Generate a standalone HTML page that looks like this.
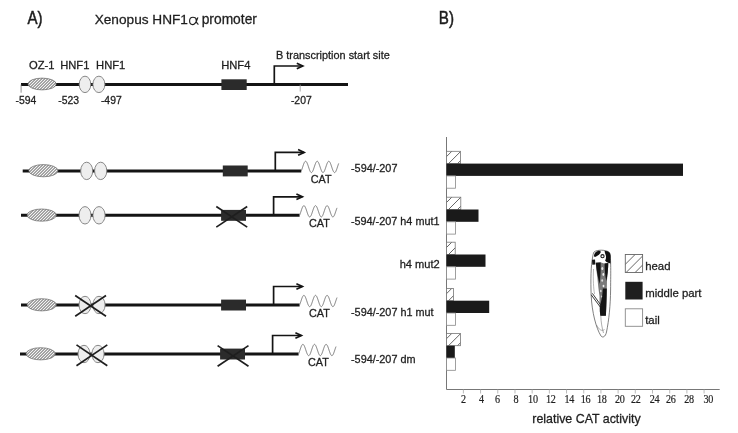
<!DOCTYPE html>
<html><head><meta charset="utf-8"><style>
html,body{margin:0;padding:0;background:#fff;}
body{width:738px;height:433px;overflow:hidden;}
svg{display:block;will-change:transform;}
text{stroke:#1e1e1e;stroke-width:0.28px;}
</style></head><body>
<svg width="738" height="433" viewBox="0 0 738 433">
<defs>
<pattern id="fine" patternUnits="userSpaceOnUse" width="2.1213" height="2.1213" patternTransform="rotate(45)">
<rect width="2.1213" height="2.1213" fill="#fff"/><rect width="0.8" height="2.1213" fill="#555"/></pattern>
<pattern id="hatch" patternUnits="userSpaceOnUse" width="6.2" height="6.2" patternTransform="rotate(45)">
<rect width="6.2" height="6.2" fill="#fff"/><rect width="0.9" height="6.2" fill="#555"/></pattern>
</defs>
<rect width="738" height="433" fill="#fff"/>
<text x="27.4" y="23.8" font-family="Liberation Sans, sans-serif" font-size="18.8" fill="#1e1e1e" style="stroke-width:0.55px" transform="translate(27.4 0) scale(0.8 1) translate(-27.4 0)">A)</text>
<text x="94.70" y="24.00" font-family="Liberation Sans, sans-serif" font-size="13.65" fill="#1e1e1e" text-anchor="start" >Xenopus HNF1</text>
<path d="M196.6,19.2 C195.8,17.8 194.4,17.2 193,17.2 C190.8,17.2 189.6,19.1 189.6,21.1 C189.6,23.3 190.9,24.6 192.6,24.6 C194.6,24.6 195.9,22.4 196.8,20.2 L197.9,17.4 M195.9,18.6 C196.2,21.3 196.7,24.3 198.6,24.2" fill="none" stroke="#1e1e1e" stroke-width="1.15"/>
<text x="201.70" y="24.00" font-family="Liberation Sans, sans-serif" font-size="13.8" fill="#1e1e1e" text-anchor="start" >promoter</text>
<line x1="21.00" y1="84.60" x2="348.00" y2="84.60" stroke="#141414" stroke-width="3"/>
<line x1="21.1" y1="84.6" x2="21.1" y2="92.7" stroke="#777" stroke-width="0.8"/>
<line x1="300.2" y1="84.6" x2="300.2" y2="91.5" stroke="#999" stroke-width="0.8"/>
<ellipse cx="42.10" cy="84.00" rx="14.1" ry="5.9" fill="url(#fine)" stroke="#666" stroke-width="0.7"/>
<ellipse cx="85.00" cy="84.40" rx="5.8" ry="8.2" fill="#eeeeee" stroke="#7a7a7a" stroke-width="0.9"/>
<ellipse cx="98.90" cy="84.40" rx="6.0" ry="8.2" fill="#eeeeee" stroke="#7a7a7a" stroke-width="0.9"/>
<rect x="221.40" y="79.30" width="25.30" height="10.70" fill="#2b2b2b"/>
<polyline points="274.30,84.60 274.30,66.00 302.80,66.00" fill="none" stroke="#141414" stroke-width="1.7"/>
<polyline points="296.80,63.20 302.80,66.00 296.80,68.80" fill="none" stroke="#141414" stroke-width="1.7"/>
<text x="29.00" y="68.50" font-family="Liberation Sans, sans-serif" font-size="11.2" fill="#1e1e1e" text-anchor="start" >OZ-1</text>
<text x="60.20" y="68.50" font-family="Liberation Sans, sans-serif" font-size="11.2" fill="#1e1e1e" text-anchor="start" >HNF1</text>
<text x="96.10" y="68.50" font-family="Liberation Sans, sans-serif" font-size="11.2" fill="#1e1e1e" text-anchor="start" >HNF1</text>
<text x="221.20" y="68.50" font-family="Liberation Sans, sans-serif" font-size="11.2" fill="#1e1e1e" text-anchor="start" >HNF4</text>
<text x="276.00" y="59.30" font-family="Liberation Sans, sans-serif" font-size="10.9" fill="#1e1e1e" text-anchor="start" >B transcription start site</text>
<text x="15.50" y="103.50" font-family="Liberation Sans, sans-serif" font-size="10.4" fill="#1e1e1e" text-anchor="start" >-594</text>
<text x="58.20" y="103.50" font-family="Liberation Sans, sans-serif" font-size="10.4" fill="#1e1e1e" text-anchor="start" >-523</text>
<text x="100.90" y="103.50" font-family="Liberation Sans, sans-serif" font-size="10.4" fill="#1e1e1e" text-anchor="start" >-497</text>
<text x="290.90" y="103.50" font-family="Liberation Sans, sans-serif" font-size="10.4" fill="#1e1e1e" text-anchor="start" >-207</text>
<line x1="22.70" y1="170.90" x2="301.30" y2="170.90" stroke="#141414" stroke-width="3"/>
<ellipse cx="43.40" cy="170.70" rx="14.6" ry="6.1" fill="url(#fine)" stroke="#666" stroke-width="0.7"/>
<ellipse cx="86.70" cy="170.90" rx="6.0" ry="8.7" fill="#eeeeee" stroke="#7a7a7a" stroke-width="0.9"/>
<ellipse cx="100.70" cy="170.90" rx="6.1" ry="8.7" fill="#eeeeee" stroke="#7a7a7a" stroke-width="0.9"/>
<rect x="222.80" y="165.50" width="24.90" height="10.90" fill="#2b2b2b"/>
<polyline points="275.30,170.90 275.30,152.40 304.10,152.40" fill="none" stroke="#141414" stroke-width="1.7"/>
<polyline points="298.10,149.60 304.10,152.40 298.10,155.20" fill="none" stroke="#141414" stroke-width="1.7"/>
<polyline points="301.30,170.79 301.55,170.19 301.80,169.54 302.05,168.84 302.30,168.10 302.56,167.34 302.81,166.58 303.06,165.81 303.31,165.07 303.56,164.36 303.81,163.70 304.06,163.10 304.31,162.57 304.56,162.12 304.81,161.75 305.07,161.49 305.32,161.32 305.57,161.25 305.82,161.29 306.07,161.43 306.32,161.67 306.57,162.01 306.82,162.44 307.07,162.96 307.32,163.54 307.58,164.19 307.83,164.88 308.08,165.62 308.33,166.37 308.58,167.14 308.83,167.91 309.08,168.65 309.33,169.36 309.58,170.03 309.83,170.64 310.09,171.18 310.34,171.64 310.59,172.01 310.84,172.29 311.09,172.47 311.34,172.55 311.59,172.52 311.84,172.39 312.09,172.16 312.34,171.83 312.60,171.41 312.85,170.90 313.10,170.33 313.35,169.69 313.60,168.99 313.85,168.26 314.10,167.51 314.35,166.74 314.60,165.98 314.85,165.23 315.11,164.51 315.36,163.84 315.61,163.23 315.86,162.68 316.11,162.21 316.36,161.82 316.61,161.53 316.86,161.34 317.11,161.26 317.36,161.27 317.62,161.39 317.87,161.61 318.12,161.93 318.37,162.34 318.62,162.84 318.87,163.41 319.12,164.04 319.37,164.73 319.62,165.46 319.87,166.21 320.13,166.98 320.38,167.74 320.63,168.49 320.88,169.21 321.13,169.89 321.38,170.51 321.63,171.07 321.88,171.55 322.13,171.94 322.38,172.24 322.64,172.44 322.89,172.54 323.14,172.53 323.39,172.43 323.64,172.21 323.89,171.91 324.14,171.50 324.39,171.02 324.64,170.45 324.89,169.83 325.15,169.14 325.40,168.42 325.65,167.67 325.90,166.90 326.15,166.14 326.40,165.39 326.65,164.66 326.90,163.98 327.15,163.35 327.40,162.79 327.66,162.30 327.91,161.90 328.16,161.59 328.41,161.38 328.66,161.27 328.91,161.26 329.16,161.36 329.41,161.56 329.66,161.86 329.91,162.25 330.17,162.73 330.42,163.28 330.67,163.90 330.92,164.58 331.17,165.30 331.42,166.05 331.67,166.81 331.92,167.58 332.17,168.33 332.42,169.06 332.68,169.75 332.93,170.38 333.18,170.95 333.43,171.45 333.68,171.86 333.93,172.18 334.18,172.41 334.43,172.53 334.68,172.54 334.93,172.46 335.19,172.27 335.44,171.98 335.69,171.60 335.94,171.13 336.19,170.58 336.44,169.97 336.69,169.29 336.94,168.58 337.19,167.83 337.44,167.07 337.70,166.30 337.95,165.55 338.20,164.81 338.45,164.12 338.70,163.48" fill="none" stroke="#7a7a7a" stroke-width="1"/>
<text x="310.70" y="182.90" font-family="Liberation Sans, sans-serif" font-size="10.8" fill="#1e1e1e" text-anchor="start" >CAT</text>
<line x1="21.00" y1="215.30" x2="299.60" y2="215.30" stroke="#141414" stroke-width="3"/>
<ellipse cx="41.70" cy="215.10" rx="14.6" ry="6.1" fill="url(#fine)" stroke="#666" stroke-width="0.7"/>
<ellipse cx="85.00" cy="215.30" rx="6.0" ry="8.7" fill="#eeeeee" stroke="#7a7a7a" stroke-width="0.9"/>
<ellipse cx="99.00" cy="215.30" rx="6.1" ry="8.7" fill="#eeeeee" stroke="#7a7a7a" stroke-width="0.9"/>
<rect x="221.10" y="209.90" width="24.90" height="10.90" fill="#2b2b2b"/>
<polyline points="273.60,215.30 273.60,196.80 302.40,196.80" fill="none" stroke="#141414" stroke-width="1.7"/>
<polyline points="296.40,194.00 302.40,196.80 296.40,199.60" fill="none" stroke="#141414" stroke-width="1.7"/>
<polyline points="299.60,215.19 299.85,214.59 300.10,213.94 300.35,213.24 300.60,212.50 300.86,211.74 301.11,210.98 301.36,210.21 301.61,209.47 301.86,208.76 302.11,208.10 302.36,207.50 302.61,206.97 302.86,206.52 303.11,206.15 303.37,205.89 303.62,205.72 303.87,205.65 304.12,205.69 304.37,205.83 304.62,206.07 304.87,206.41 305.12,206.84 305.37,207.36 305.62,207.94 305.88,208.59 306.13,209.28 306.38,210.02 306.63,210.77 306.88,211.54 307.13,212.31 307.38,213.05 307.63,213.76 307.88,214.43 308.13,215.04 308.39,215.58 308.64,216.04 308.89,216.41 309.14,216.69 309.39,216.87 309.64,216.95 309.89,216.92 310.14,216.79 310.39,216.56 310.64,216.23 310.90,215.81 311.15,215.30 311.40,214.73 311.65,214.09 311.90,213.39 312.15,212.66 312.40,211.91 312.65,211.14 312.90,210.38 313.15,209.63 313.41,208.91 313.66,208.24 313.91,207.63 314.16,207.08 314.41,206.61 314.66,206.22 314.91,205.93 315.16,205.74 315.41,205.66 315.66,205.67 315.92,205.79 316.17,206.01 316.42,206.33 316.67,206.74 316.92,207.24 317.17,207.81 317.42,208.44 317.67,209.13 317.92,209.86 318.17,210.61 318.43,211.38 318.68,212.14 318.93,212.89 319.18,213.61 319.43,214.29 319.68,214.91 319.93,215.47 320.18,215.95 320.43,216.34 320.68,216.64 320.94,216.84 321.19,216.94 321.44,216.93 321.69,216.83 321.94,216.61 322.19,216.31 322.44,215.90 322.69,215.42 322.94,214.85 323.19,214.23 323.45,213.54 323.70,212.82 323.95,212.07 324.20,211.30 324.45,210.54 324.70,209.79 324.95,209.06 325.20,208.38 325.45,207.75 325.70,207.19 325.96,206.70 326.21,206.30 326.46,205.99 326.71,205.78 326.96,205.67 327.21,205.66 327.46,205.76 327.71,205.96 327.96,206.26 328.21,206.65 328.47,207.13 328.72,207.68 328.97,208.30 329.22,208.98 329.47,209.70 329.72,210.45 329.97,211.21 330.22,211.98 330.47,212.73 330.72,213.46 330.98,214.15 331.23,214.78 331.48,215.35 331.73,215.85 331.98,216.26 332.23,216.58 332.48,216.81 332.73,216.93 332.98,216.94 333.23,216.86 333.49,216.67 333.74,216.38 333.99,216.00 334.24,215.53 334.49,214.98 334.74,214.37 334.99,213.69 335.24,212.98 335.49,212.23 335.74,211.47 336.00,210.70 336.25,209.95 336.50,209.21 336.75,208.52 337.00,207.88" fill="none" stroke="#7a7a7a" stroke-width="1"/>
<text x="309.00" y="227.30" font-family="Liberation Sans, sans-serif" font-size="10.8" fill="#1e1e1e" text-anchor="start" >CAT</text>
<line x1="216.30" y1="206.50" x2="247.20" y2="227.10" stroke="#1e1e1e" stroke-width="1.7"/>
<line x1="216.30" y1="227.10" x2="247.20" y2="206.50" stroke="#1e1e1e" stroke-width="1.7"/>
<line x1="21.00" y1="305.00" x2="299.60" y2="305.00" stroke="#141414" stroke-width="3"/>
<ellipse cx="41.70" cy="304.80" rx="14.6" ry="6.1" fill="url(#fine)" stroke="#666" stroke-width="0.7"/>
<ellipse cx="85.00" cy="305.00" rx="6.0" ry="8.7" fill="#eeeeee" stroke="#7a7a7a" stroke-width="0.9"/>
<ellipse cx="99.00" cy="305.00" rx="6.1" ry="8.7" fill="#eeeeee" stroke="#7a7a7a" stroke-width="0.9"/>
<rect x="221.10" y="299.60" width="24.90" height="10.90" fill="#2b2b2b"/>
<polyline points="273.60,305.00 273.60,286.50 302.40,286.50" fill="none" stroke="#141414" stroke-width="1.7"/>
<polyline points="296.40,283.70 302.40,286.50 296.40,289.30" fill="none" stroke="#141414" stroke-width="1.7"/>
<polyline points="299.60,304.89 299.85,304.29 300.10,303.64 300.35,302.94 300.60,302.20 300.86,301.44 301.11,300.68 301.36,299.91 301.61,299.17 301.86,298.46 302.11,297.80 302.36,297.20 302.61,296.67 302.86,296.22 303.11,295.85 303.37,295.59 303.62,295.42 303.87,295.35 304.12,295.39 304.37,295.53 304.62,295.77 304.87,296.11 305.12,296.54 305.37,297.06 305.62,297.64 305.88,298.29 306.13,298.98 306.38,299.72 306.63,300.47 306.88,301.24 307.13,302.01 307.38,302.75 307.63,303.46 307.88,304.13 308.13,304.74 308.39,305.28 308.64,305.74 308.89,306.11 309.14,306.39 309.39,306.57 309.64,306.65 309.89,306.62 310.14,306.49 310.39,306.26 310.64,305.93 310.90,305.51 311.15,305.00 311.40,304.43 311.65,303.79 311.90,303.09 312.15,302.36 312.40,301.61 312.65,300.84 312.90,300.08 313.15,299.33 313.41,298.61 313.66,297.94 313.91,297.33 314.16,296.78 314.41,296.31 314.66,295.92 314.91,295.63 315.16,295.44 315.41,295.36 315.66,295.37 315.92,295.49 316.17,295.71 316.42,296.03 316.67,296.44 316.92,296.94 317.17,297.51 317.42,298.14 317.67,298.83 317.92,299.56 318.17,300.31 318.43,301.08 318.68,301.84 318.93,302.59 319.18,303.31 319.43,303.99 319.68,304.61 319.93,305.17 320.18,305.65 320.43,306.04 320.68,306.34 320.94,306.54 321.19,306.64 321.44,306.63 321.69,306.53 321.94,306.31 322.19,306.01 322.44,305.60 322.69,305.12 322.94,304.55 323.19,303.93 323.45,303.24 323.70,302.52 323.95,301.77 324.20,301.00 324.45,300.24 324.70,299.49 324.95,298.76 325.20,298.08 325.45,297.45 325.70,296.89 325.96,296.40 326.21,296.00 326.46,295.69 326.71,295.48 326.96,295.37 327.21,295.36 327.46,295.46 327.71,295.66 327.96,295.96 328.21,296.35 328.47,296.83 328.72,297.38 328.97,298.00 329.22,298.68 329.47,299.40 329.72,300.15 329.97,300.91 330.22,301.68 330.47,302.43 330.72,303.16 330.98,303.85 331.23,304.48 331.48,305.05 331.73,305.55 331.98,305.96 332.23,306.28 332.48,306.51 332.73,306.63 332.98,306.64 333.23,306.56 333.49,306.37 333.74,306.08 333.99,305.70 334.24,305.23 334.49,304.68 334.74,304.07 334.99,303.39 335.24,302.68 335.49,301.93 335.74,301.17 336.00,300.40 336.25,299.65 336.50,298.91 336.75,298.22 337.00,297.58" fill="none" stroke="#7a7a7a" stroke-width="1"/>
<text x="309.00" y="317.00" font-family="Liberation Sans, sans-serif" font-size="10.8" fill="#1e1e1e" text-anchor="start" >CAT</text>
<line x1="75.20" y1="295.50" x2="106.00" y2="316.30" stroke="#1e1e1e" stroke-width="1.7"/>
<line x1="75.20" y1="316.30" x2="106.00" y2="295.50" stroke="#1e1e1e" stroke-width="1.7"/>
<line x1="20.00" y1="354.00" x2="298.60" y2="354.00" stroke="#141414" stroke-width="3"/>
<ellipse cx="40.70" cy="353.80" rx="14.6" ry="6.1" fill="url(#fine)" stroke="#666" stroke-width="0.7"/>
<ellipse cx="84.00" cy="354.00" rx="6.0" ry="8.7" fill="#eeeeee" stroke="#7a7a7a" stroke-width="0.9"/>
<ellipse cx="98.00" cy="354.00" rx="6.1" ry="8.7" fill="#eeeeee" stroke="#7a7a7a" stroke-width="0.9"/>
<rect x="220.10" y="348.60" width="24.90" height="10.90" fill="#2b2b2b"/>
<polyline points="272.60,354.00 272.60,335.50 301.40,335.50" fill="none" stroke="#141414" stroke-width="1.7"/>
<polyline points="295.40,332.70 301.40,335.50 295.40,338.30" fill="none" stroke="#141414" stroke-width="1.7"/>
<polyline points="298.60,353.89 298.85,353.29 299.10,352.64 299.35,351.94 299.60,351.20 299.86,350.44 300.11,349.68 300.36,348.91 300.61,348.17 300.86,347.46 301.11,346.80 301.36,346.20 301.61,345.67 301.86,345.22 302.11,344.85 302.37,344.59 302.62,344.42 302.87,344.35 303.12,344.39 303.37,344.53 303.62,344.77 303.87,345.11 304.12,345.54 304.37,346.06 304.62,346.64 304.88,347.29 305.13,347.98 305.38,348.72 305.63,349.47 305.88,350.24 306.13,351.01 306.38,351.75 306.63,352.46 306.88,353.13 307.13,353.74 307.39,354.28 307.64,354.74 307.89,355.11 308.14,355.39 308.39,355.57 308.64,355.65 308.89,355.62 309.14,355.49 309.39,355.26 309.64,354.93 309.90,354.51 310.15,354.00 310.40,353.43 310.65,352.79 310.90,352.09 311.15,351.36 311.40,350.61 311.65,349.84 311.90,349.08 312.15,348.33 312.41,347.61 312.66,346.94 312.91,346.33 313.16,345.78 313.41,345.31 313.66,344.92 313.91,344.63 314.16,344.44 314.41,344.36 314.66,344.37 314.92,344.49 315.17,344.71 315.42,345.03 315.67,345.44 315.92,345.94 316.17,346.51 316.42,347.14 316.67,347.83 316.92,348.56 317.17,349.31 317.43,350.08 317.68,350.84 317.93,351.59 318.18,352.31 318.43,352.99 318.68,353.61 318.93,354.17 319.18,354.65 319.43,355.04 319.68,355.34 319.94,355.54 320.19,355.64 320.44,355.63 320.69,355.53 320.94,355.31 321.19,355.01 321.44,354.60 321.69,354.12 321.94,353.55 322.19,352.93 322.45,352.24 322.70,351.52 322.95,350.77 323.20,350.00 323.45,349.24 323.70,348.49 323.95,347.76 324.20,347.08 324.45,346.45 324.70,345.89 324.96,345.40 325.21,345.00 325.46,344.69 325.71,344.48 325.96,344.37 326.21,344.36 326.46,344.46 326.71,344.66 326.96,344.96 327.21,345.35 327.47,345.83 327.72,346.38 327.97,347.00 328.22,347.68 328.47,348.40 328.72,349.15 328.97,349.91 329.22,350.68 329.47,351.43 329.72,352.16 329.98,352.85 330.23,353.48 330.48,354.05 330.73,354.55 330.98,354.96 331.23,355.28 331.48,355.51 331.73,355.63 331.98,355.64 332.23,355.56 332.49,355.37 332.74,355.08 332.99,354.70 333.24,354.23 333.49,353.68 333.74,353.07 333.99,352.39 334.24,351.68 334.49,350.93 334.74,350.17 335.00,349.40 335.25,348.65 335.50,347.91 335.75,347.22 336.00,346.58" fill="none" stroke="#7a7a7a" stroke-width="1"/>
<text x="308.00" y="366.00" font-family="Liberation Sans, sans-serif" font-size="10.8" fill="#1e1e1e" text-anchor="start" >CAT</text>
<line x1="76.50" y1="344.90" x2="107.30" y2="365.70" stroke="#1e1e1e" stroke-width="1.7"/>
<line x1="76.50" y1="365.70" x2="107.30" y2="344.90" stroke="#1e1e1e" stroke-width="1.7"/>
<line x1="217.60" y1="345.60" x2="248.50" y2="366.20" stroke="#1e1e1e" stroke-width="1.7"/>
<line x1="217.60" y1="366.20" x2="248.50" y2="345.60" stroke="#1e1e1e" stroke-width="1.7"/>
<text x="351.00" y="172.00" font-family="Liberation Sans, sans-serif" font-size="10.85" fill="#1e1e1e" text-anchor="start" >-594/-207</text>
<text x="350.90" y="224.60" font-family="Liberation Sans, sans-serif" font-size="10.85" fill="#1e1e1e" text-anchor="start" >-594/-207 h4 mut1</text>
<text x="399.70" y="268.30" font-family="Liberation Sans, sans-serif" font-size="11.1" fill="#1e1e1e" text-anchor="start" >h4 mut2</text>
<text x="351.00" y="315.50" font-family="Liberation Sans, sans-serif" font-size="10.85" fill="#1e1e1e" text-anchor="start" >-594/-207 h1 mut</text>
<text x="351.00" y="362.50" font-family="Liberation Sans, sans-serif" font-size="10.85" fill="#1e1e1e" text-anchor="start" >-594/-207 dm</text>
<text x="438.8" y="23.9" font-family="Liberation Sans, sans-serif" font-size="18.3" fill="#1e1e1e" style="stroke-width:0.5px" transform="translate(438.8 0) scale(0.83 1) translate(-438.8 0)">B)</text>
<line x1="446.5" y1="137" x2="446.5" y2="389.5" stroke="#777" stroke-width="1"/>
<line x1="446.5" y1="389.5" x2="719.7" y2="389.5" stroke="#777" stroke-width="1"/>
<line x1="463.39" y1="389.5" x2="463.39" y2="393.5" stroke="#aaa" stroke-width="0.8"/>
<text transform="translate(463.30 402.7) scale(0.86 1)" x="0" y="0" font-family="Liberation Serif, serif" font-size="11.8" fill="#1e1e1e" text-anchor="middle" letter-spacing="-0.3" style="stroke-width:0.2px">2</text>
<line x1="480.58" y1="389.5" x2="480.58" y2="393.5" stroke="#aaa" stroke-width="0.8"/>
<text transform="translate(481.50 402.7) scale(0.86 1)" x="0" y="0" font-family="Liberation Serif, serif" font-size="11.8" fill="#1e1e1e" text-anchor="middle" letter-spacing="-0.3" style="stroke-width:0.2px">4</text>
<line x1="497.78" y1="389.5" x2="497.78" y2="393.5" stroke="#aaa" stroke-width="0.8"/>
<text transform="translate(497.40 402.7) scale(0.86 1)" x="0" y="0" font-family="Liberation Serif, serif" font-size="11.8" fill="#1e1e1e" text-anchor="middle" letter-spacing="-0.3" style="stroke-width:0.2px">6</text>
<line x1="514.97" y1="389.5" x2="514.97" y2="393.5" stroke="#aaa" stroke-width="0.8"/>
<text transform="translate(515.90 402.7) scale(0.86 1)" x="0" y="0" font-family="Liberation Serif, serif" font-size="11.8" fill="#1e1e1e" text-anchor="middle" letter-spacing="-0.3" style="stroke-width:0.2px">8</text>
<line x1="532.16" y1="389.5" x2="532.16" y2="393.5" stroke="#aaa" stroke-width="0.8"/>
<text transform="translate(532.90 402.7) scale(0.86 1)" x="0" y="0" font-family="Liberation Serif, serif" font-size="11.8" fill="#1e1e1e" text-anchor="middle" letter-spacing="-0.3" style="stroke-width:0.2px">10</text>
<line x1="549.35" y1="389.5" x2="549.35" y2="393.5" stroke="#aaa" stroke-width="0.8"/>
<text transform="translate(550.80 402.7) scale(0.86 1)" x="0" y="0" font-family="Liberation Serif, serif" font-size="11.8" fill="#1e1e1e" text-anchor="middle" letter-spacing="-0.3" style="stroke-width:0.2px">12</text>
<line x1="566.54" y1="389.5" x2="566.54" y2="393.5" stroke="#aaa" stroke-width="0.8"/>
<text transform="translate(569.20 402.7) scale(0.86 1)" x="0" y="0" font-family="Liberation Serif, serif" font-size="11.8" fill="#1e1e1e" text-anchor="middle" letter-spacing="-0.3" style="stroke-width:0.2px">14</text>
<line x1="583.74" y1="389.5" x2="583.74" y2="393.5" stroke="#aaa" stroke-width="0.8"/>
<text transform="translate(585.60 402.7) scale(0.86 1)" x="0" y="0" font-family="Liberation Serif, serif" font-size="11.8" fill="#1e1e1e" text-anchor="middle" letter-spacing="-0.3" style="stroke-width:0.2px">16</text>
<line x1="600.93" y1="389.5" x2="600.93" y2="393.5" stroke="#aaa" stroke-width="0.8"/>
<text transform="translate(601.70 402.7) scale(0.86 1)" x="0" y="0" font-family="Liberation Serif, serif" font-size="11.8" fill="#1e1e1e" text-anchor="middle" letter-spacing="-0.3" style="stroke-width:0.2px">18</text>
<line x1="618.12" y1="389.5" x2="618.12" y2="393.5" stroke="#aaa" stroke-width="0.8"/>
<text transform="translate(619.70 402.7) scale(0.86 1)" x="0" y="0" font-family="Liberation Serif, serif" font-size="11.8" fill="#1e1e1e" text-anchor="middle" letter-spacing="-0.3" style="stroke-width:0.2px">20</text>
<line x1="635.31" y1="389.5" x2="635.31" y2="393.5" stroke="#aaa" stroke-width="0.8"/>
<text transform="translate(635.80 402.7) scale(0.86 1)" x="0" y="0" font-family="Liberation Serif, serif" font-size="11.8" fill="#1e1e1e" text-anchor="middle" letter-spacing="-0.3" style="stroke-width:0.2px">22</text>
<line x1="652.50" y1="389.5" x2="652.50" y2="393.5" stroke="#aaa" stroke-width="0.8"/>
<text transform="translate(654.50 402.7) scale(0.86 1)" x="0" y="0" font-family="Liberation Serif, serif" font-size="11.8" fill="#1e1e1e" text-anchor="middle" letter-spacing="-0.3" style="stroke-width:0.2px">24</text>
<line x1="669.70" y1="389.5" x2="669.70" y2="393.5" stroke="#aaa" stroke-width="0.8"/>
<text transform="translate(670.80 402.7) scale(0.86 1)" x="0" y="0" font-family="Liberation Serif, serif" font-size="11.8" fill="#1e1e1e" text-anchor="middle" letter-spacing="-0.3" style="stroke-width:0.2px">26</text>
<line x1="686.89" y1="389.5" x2="686.89" y2="393.5" stroke="#aaa" stroke-width="0.8"/>
<text transform="translate(689.10 402.7) scale(0.86 1)" x="0" y="0" font-family="Liberation Serif, serif" font-size="11.8" fill="#1e1e1e" text-anchor="middle" letter-spacing="-0.3" style="stroke-width:0.2px">28</text>
<line x1="704.08" y1="389.5" x2="704.08" y2="393.5" stroke="#aaa" stroke-width="0.8"/>
<text transform="translate(708.20 402.7) scale(0.86 1)" x="0" y="0" font-family="Liberation Serif, serif" font-size="11.8" fill="#1e1e1e" text-anchor="middle" letter-spacing="-0.3" style="stroke-width:0.2px">30</text>
<text x="532.30" y="423.30" font-family="Liberation Sans, sans-serif" font-size="12.4" fill="#1e1e1e" text-anchor="start" >relative CAT activity</text>
<clipPath id="hc1"><rect x="446.50" y="151.30" width="14.00" height="12.30"/></clipPath>
<rect x="446.50" y="151.30" width="14.00" height="12.30" fill="#fff"/>
<path d="M437.50,165.60 L453.80,149.30 M446.50,165.60 L462.80,149.30 M455.50,165.60 L471.80,149.30" stroke="#555" stroke-width="0.9" fill="none" clip-path="url(#hc1)"/>
<rect x="446.50" y="151.30" width="14.00" height="12.30" fill="none" stroke="#777" stroke-width="0.8"/>
<rect x="446.5" y="163.60" width="236.50" height="12.3" fill="#1a1a1a"/>
<rect x="446.5" y="175.90" width="9.00" height="12.3" fill="#fff" stroke="#888" stroke-width="0.8"/>
<clipPath id="hc2"><rect x="446.50" y="197.20" width="14.30" height="12.30"/></clipPath>
<rect x="446.50" y="197.20" width="14.30" height="12.30" fill="#fff"/>
<path d="M437.50,211.50 L453.80,195.20 M446.50,211.50 L462.80,195.20 M455.50,211.50 L471.80,195.20" stroke="#555" stroke-width="0.9" fill="none" clip-path="url(#hc2)"/>
<rect x="446.50" y="197.20" width="14.30" height="12.30" fill="none" stroke="#777" stroke-width="0.8"/>
<rect x="446.5" y="209.50" width="32.00" height="12.3" fill="#1a1a1a"/>
<rect x="446.5" y="221.80" width="9.00" height="12.3" fill="#fff" stroke="#888" stroke-width="0.8"/>
<clipPath id="hc3"><rect x="446.50" y="242.20" width="8.70" height="12.30"/></clipPath>
<rect x="446.50" y="242.20" width="8.70" height="12.30" fill="#fff"/>
<path d="M437.50,256.50 L453.80,240.20 M446.50,256.50 L462.80,240.20" stroke="#555" stroke-width="0.9" fill="none" clip-path="url(#hc3)"/>
<rect x="446.50" y="242.20" width="8.70" height="12.30" fill="none" stroke="#777" stroke-width="0.8"/>
<rect x="446.5" y="254.50" width="39.00" height="12.3" fill="#1a1a1a"/>
<rect x="446.5" y="266.80" width="9.00" height="12.3" fill="#fff" stroke="#888" stroke-width="0.8"/>
<clipPath id="hc4"><rect x="446.50" y="288.40" width="6.90" height="12.30"/></clipPath>
<rect x="446.50" y="288.40" width="6.90" height="12.30" fill="#fff"/>
<path d="M437.50,302.70 L453.80,286.40 M446.50,302.70 L462.80,286.40" stroke="#555" stroke-width="0.9" fill="none" clip-path="url(#hc4)"/>
<rect x="446.50" y="288.40" width="6.90" height="12.30" fill="none" stroke="#777" stroke-width="0.8"/>
<rect x="446.5" y="300.70" width="42.70" height="12.3" fill="#1a1a1a"/>
<rect x="446.5" y="313.00" width="9.00" height="12.3" fill="#fff" stroke="#888" stroke-width="0.8"/>
<clipPath id="hc5"><rect x="446.50" y="333.40" width="14.00" height="12.30"/></clipPath>
<rect x="446.50" y="333.40" width="14.00" height="12.30" fill="#fff"/>
<path d="M437.50,347.70 L453.80,331.40 M446.50,347.70 L462.80,331.40 M455.50,347.70 L471.80,331.40" stroke="#555" stroke-width="0.9" fill="none" clip-path="url(#hc5)"/>
<rect x="446.50" y="333.40" width="14.00" height="12.30" fill="none" stroke="#777" stroke-width="0.8"/>
<rect x="446.5" y="345.70" width="8.30" height="12.3" fill="#1a1a1a"/>
<rect x="446.5" y="358.00" width="9.00" height="12.3" fill="#fff" stroke="#888" stroke-width="0.8"/>
<clipPath id="hc6"><rect x="625.30" y="254.50" width="17.30" height="18.00"/></clipPath>
<rect x="625.30" y="254.50" width="17.30" height="18.00" fill="#fff"/>
<path d="M615.10,274.50 L637.10,252.50 M624.10,274.50 L646.10,252.50 M633.10,274.50 L655.10,252.50" stroke="#555" stroke-width="0.9" fill="none" clip-path="url(#hc6)"/>
<rect x="625.30" y="254.50" width="17.30" height="18.00" fill="none" stroke="#666" stroke-width="0.9"/>
<rect x="625.3" y="281.8" width="17.3" height="17.7" fill="#1e1e1e"/>
<rect x="625.3" y="308.8" width="17.3" height="17.5" fill="#fff" stroke="#888" stroke-width="0.9"/>
<text x="645.20" y="270.00" font-family="Liberation Sans, sans-serif" font-size="11.4" fill="#1e1e1e" text-anchor="start" >head</text>
<text x="645.20" y="297.30" font-family="Liberation Sans, sans-serif" font-size="11.4" fill="#1e1e1e" text-anchor="start" >middle part</text>
<text x="645.20" y="323.90" font-family="Liberation Sans, sans-serif" font-size="11.4" fill="#1e1e1e" text-anchor="start" >tail</text>
<path d="M594,252 C597,249.5 606,249.5 609.5,252.5 C611,256 610.8,270 610.6,290 C610.4,305 609,320 606.5,332 C605.5,337 602.5,338 601,336 C596,328 592,312 591.2,296 C590.5,280 591,265 592.5,258 C593,255 593.3,253 594,252 Z" fill="#fff" stroke="#555" stroke-width="0.75"/>
<path d="M594.2,256.6 C593.4,254.2 595.5,251.4 598.5,250.8 C600.4,250.5 601.2,251.6 600.4,252.9 C599.2,254.7 597,256.3 594.9,257 Z" fill="#111"/>
<path d="M604.6,251.1 C607.5,250.5 610.4,252 610.6,255.5 L610.6,263.5 C608.5,263.3 606.3,262.3 605.1,260.6 C606.1,258.9 606.4,256.6 605.5,254.6 C605.1,253.4 604.6,252.3 604.6,251.1 Z" fill="#111"/>
<circle cx="602.5" cy="256.2" r="1.6" fill="#fff" stroke="#1a1a1a" stroke-width="1.1"/>
<path d="M592,259.8 L595,259.6 L595.4,264.4 L592.3,264.8 Z" fill="#1a1a1a"/>
<path d="M595.8,262.8 L600.5,262.3 L604,263.5 L608.3,263 C608.2,268 607.6,274 607,280 C606.8,290 606.6,302 605.9,315.8 L600.3,315.8 C599.4,309 599.6,302 599.5,296 C598.6,290 598,284 597.3,277 C596.6,272 596,267 595.8,262.8 Z" fill="#7a7a7a"/>
<path d="M595.8,262.8 L600.6,262.5 C600.8,268 600.6,276 599.6,284 C598.2,279 596.6,271 595.8,262.8 Z" fill="#141414"/>
<path d="M604.6,263.4 L608.3,263 C608.2,268 607.6,275 606.4,281 C605.2,276 604.6,270 604.6,263.4 Z" fill="#141414"/>
<path d="M602.8,288.5 L606.8,288.5 C606.7,297 606.4,306 605.9,315.8 L600.3,315.8 C599.5,310 599.8,305 601.2,301 C602.2,297 602.6,293 602.8,288.5 Z" fill="#141414"/>
<ellipse cx="602.3" cy="268.5" rx="1.0" ry="1.5" fill="#e8e8e8"/>
<ellipse cx="603.3" cy="274.5" rx="0.9" ry="1.4" fill="#f4f4f4"/>
<ellipse cx="602.2" cy="280.5" rx="0.9" ry="1.3" fill="#ddd"/>
<ellipse cx="603.5" cy="286" rx="0.9" ry="1.3" fill="#eee"/>
<ellipse cx="600.8" cy="291" rx="0.8" ry="1.2" fill="#ddd"/>
<ellipse cx="601.5" cy="296.5" rx="0.7" ry="1.1" fill="#ccc"/>
<path d="M591.2,294.8 L600.4,307.2 M592.4,293.4 L601.2,305.6" stroke="#222" stroke-width="0.9" fill="none"/>
<path d="M600.8,316 C601,322 602,328 603.5,333 M596.5,325 C599,330 602,331.5 604.5,329.5" stroke="#777" stroke-width="0.6" fill="none"/>
<path d="M593.5,269 C593,280 593.5,288 594.5,294" stroke="#888" stroke-width="0.6" fill="none"/>
</svg>
</body></html>
